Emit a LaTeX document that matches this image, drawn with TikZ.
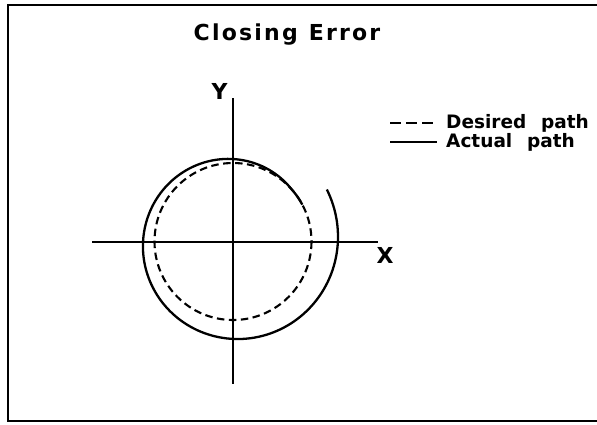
\documentclass[tikz,border=0pt]{standalone}
\usepackage{fontspec}
\newfontfamily\plotfont{DejaVu Sans Bold}
\newfontfamily\plottitlefont[LetterSpace=10]{DejaVu Sans Bold}
\tikzset{
  axisline/.style={line width=2.4pt},
  desired/.style={line width=2.1pt, dash pattern=on 7.5pt off 4.5pt},
  actual/.style={line width=2.3pt},
  legendtext/.style={anchor=base west, inner sep=0pt, font=\plotfont\fontsize{18.5}{22}\selectfont},
  axislabel/.style={inner sep=0pt, font=\plotfont\fontsize{22}{26}\selectfont}
}
\begin{document}
\begin{tikzpicture}[x=1pt,y=-1pt]
  \useasboundingbox (0,0) rectangle (597,424);
  % frame, open on the right
  \draw[line width=2.8pt] (597,5) -- (8,5) -- (8,421) -- (597,421);
  \node[anchor=base, inner sep=0pt, font=\plottitlefont\fontsize{22}{26}\selectfont] (title) at (287,40.5) {Closing\hspace{0.5em}Error};
  % axes
  \coordinate (xstart) at (92,242);
  \coordinate (xend) at (378,242);
  \coordinate (ystart) at (233,98);
  \coordinate (yend) at (233,384);
  \draw[axisline] (xstart) -- (xend);
  \draw[axisline] (ystart) -- (yend);
  \node[axislabel] (xlabel) at (385,255) {X};
  \node[axislabel] (ylabel) at (219.5,91.5) {Y};
  % desired path
  \coordinate (centre) at (233,241.5);
  \draw[desired] (centre) circle [radius=78.5];
  % actual path, opening spiral
  \draw[actual] plot[domain=28:389, samples=160, smooth]
    ({233+(78.5+0.083*max(\x-42,0))*cos(\x)}, {241.5-(78.5+0.083*max(\x-42,0))*sin(\x)});
  % legend
  \coordinate (dashA) at (390,123);
  \coordinate (dashB) at (437,123);
  \coordinate (solidA) at (390,142);
  \coordinate (solidB) at (437,142);
  \draw[line width=2pt, dash pattern=on 11pt off 5pt] (dashA) -- (dashB);
  \draw[line width=2pt] (solidA) -- (solidB);
  \node[legendtext] (desiredlabel) at (446,128.5) {Desired\hspace{0.8em}path};
  \node[legendtext] (actuallabel) at (446,147.5) {Actual\hspace{0.8em}path};
\end{tikzpicture}
\end{document}
